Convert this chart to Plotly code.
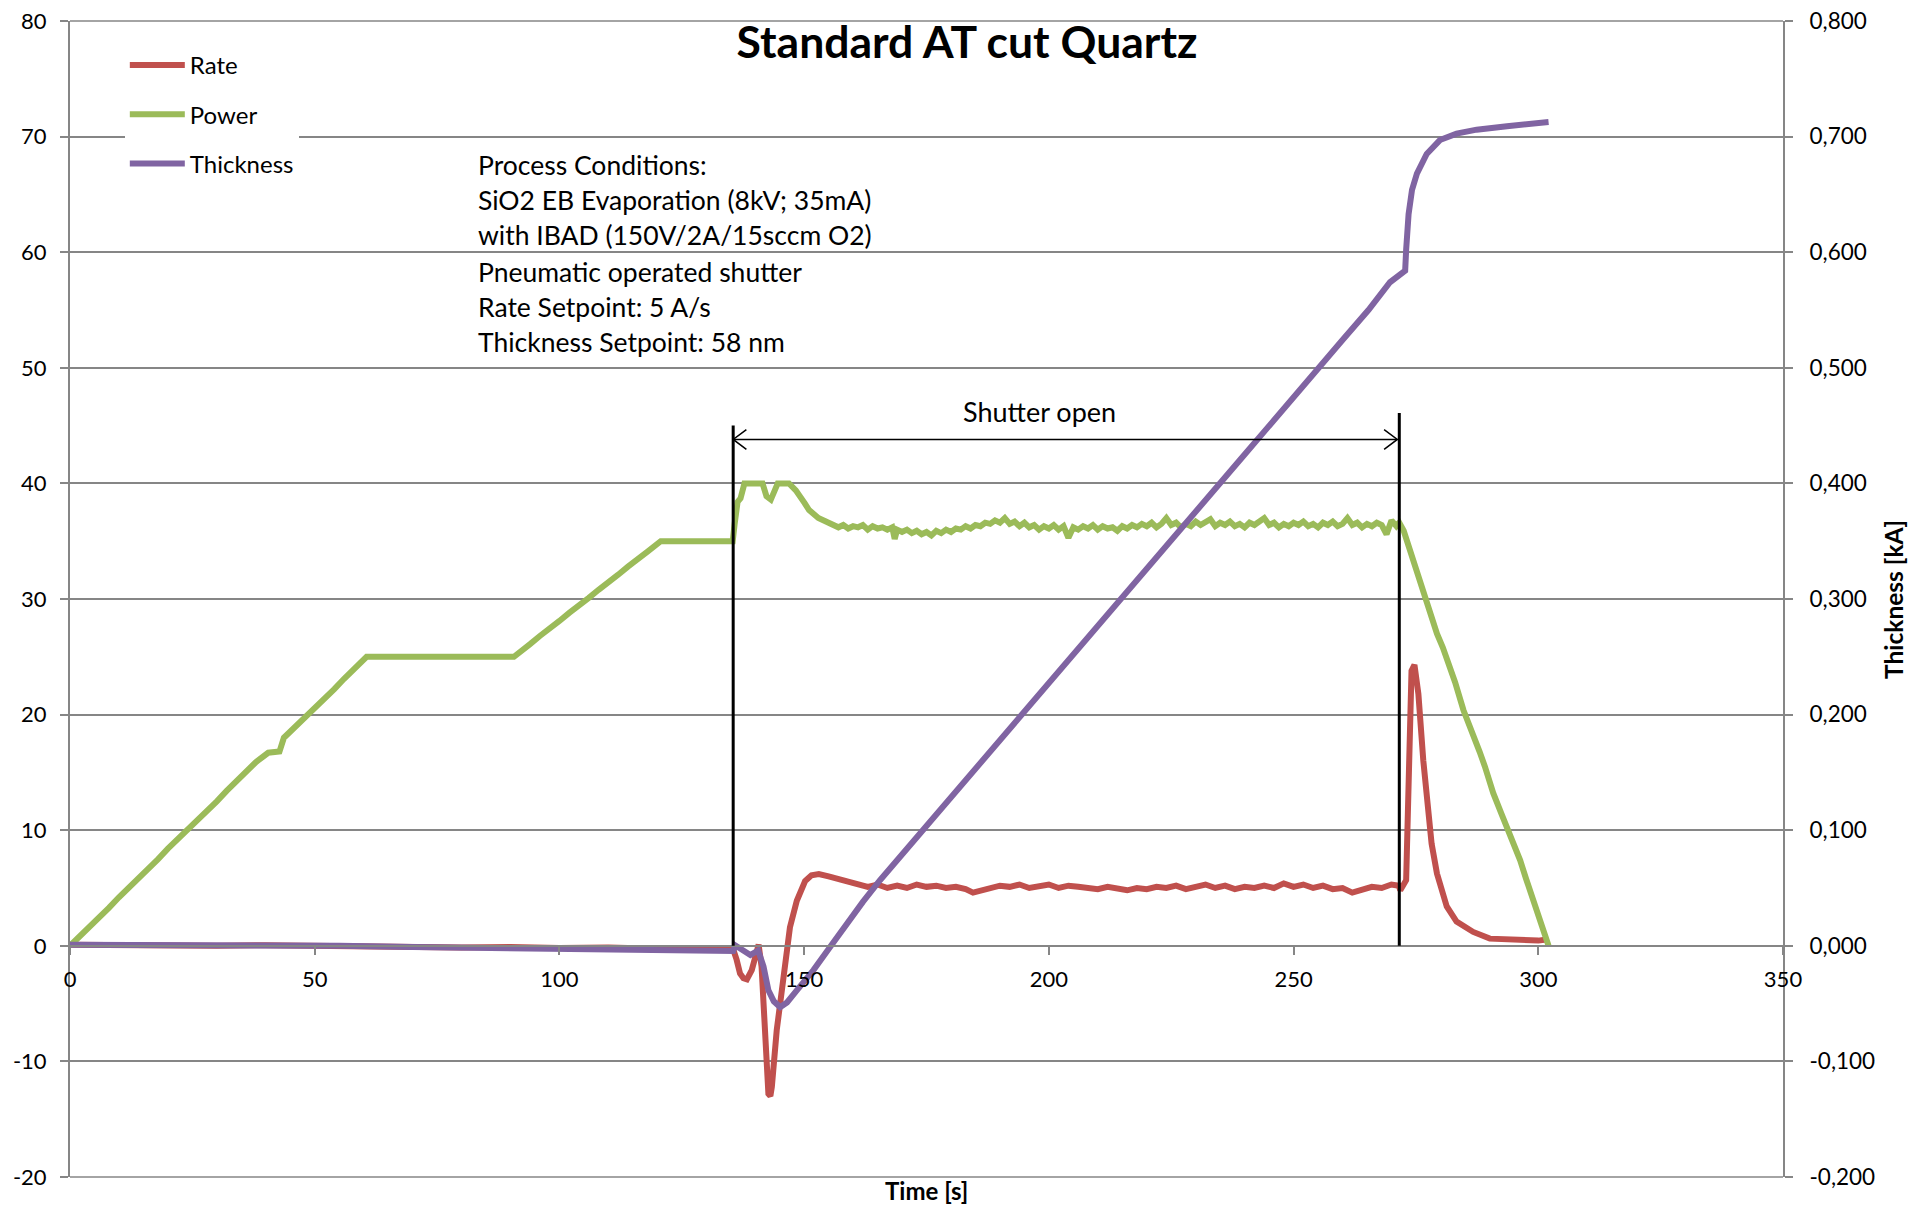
import plotly.graph_objects as go

# ---------------- data ----------------
t_power = [0, 2, 4, 6, 8, 10, 12, 14, 16, 18, 20, 22, 24, 26, 28, 30, 32, 34, 36, 38, 40.5,
           42.8, 43.7, 46, 48, 50, 52, 54, 56, 58, 60.6, 90.7, 92, 94, 96, 98, 100, 102, 104,
           106, 108, 110, 112, 114, 116, 118, 120.7, 135.4, 135.8, 136.4, 137, 137.8, 141.5,
           142.3, 143.2, 144, 144.6, 146.9, 148.3, 150.1, 151, 152.9,
           154, 155, 156, 157, 158, 159, 160, 161, 162, 163, 164, 165, 166, 167, 168, 168.5,
           169, 170, 171, 172, 173, 174, 175, 176, 177, 178, 179, 180, 181, 182, 183, 184,
           185, 186, 187, 188, 189, 190, 191, 192, 193, 194, 195, 196, 197, 198, 199, 200,
           201, 202, 203, 204, 205, 206, 207, 208, 209, 210, 211, 212, 213, 214, 215, 216,
           217, 218, 219, 220, 221, 222, 223, 224, 225, 226, 227, 228, 229, 230, 231, 232,
           233, 234, 235, 236, 237, 238, 239, 240, 241, 242, 243, 244, 245, 246, 247, 248,
           249, 250, 251, 252, 253, 254, 255, 256, 257, 258, 259, 260, 261, 262, 263, 264,
           265, 266, 267, 268, 269, 270, 271, 271.6, 272.5, 273.5, 274.5, 276, 276.9, 278,
           279.3, 280.5, 281.7, 283, 284.7, 286.7, 288, 289.1, 290.8, 292.5, 293.9, 295,
           296.3, 297.5, 299, 300.5, 302.1]
power = [0.0, 0.8, 1.7, 2.5, 3.3, 4.2, 5.0, 5.8, 6.7, 7.5, 8.4, 9.2, 10.0, 10.9, 11.7, 12.5,
         13.4, 14.2, 15.0, 15.9, 16.7, 16.8, 18.0, 18.9, 19.8, 20.6, 21.4, 22.2, 23.1, 23.9,
         25.0, 25.0, 25.4, 26.1, 26.8, 27.4, 28.1, 28.8, 29.4, 30.1, 30.8, 31.4, 32.1, 32.8,
         33.4, 34.1, 35.0, 35.0, 36.5, 38.4, 38.7, 40.0, 40.0, 38.9, 38.6, 39.3, 40.0, 40.0,
         39.4, 38.3, 37.7, 37.0,
         36.8, 36.6, 36.4, 36.2, 36.4, 36.1, 36.3, 36.2, 36.4, 36.0, 36.3, 36.1, 36.2, 36.0,
         36.2, 35.2, 36.0, 35.8, 36.0, 35.7, 35.9, 35.6, 35.8, 35.5, 35.9, 35.7, 36.0, 35.8,
         36.1, 36.0, 36.3, 36.1, 36.4, 36.3, 36.6, 36.5, 36.8, 36.6, 37.0, 36.5, 36.7, 36.3,
         36.6, 36.2, 36.4, 36.0, 36.3, 36.1, 36.4, 36.0, 36.3, 35.3, 36.2, 36.0, 36.3, 36.1,
         36.4, 36.0, 36.3, 36.1, 36.2, 35.9, 36.3, 36.1, 36.4, 36.2, 36.5, 36.3, 36.6, 36.2,
         36.5, 37.0, 36.4, 36.6, 36.2, 36.5, 36.3, 36.7, 36.4, 36.6, 36.9, 36.3, 36.6, 36.4,
         36.7, 36.3, 36.5, 36.2, 36.6, 36.4, 36.7, 37.0, 36.4, 36.6, 36.2, 36.5, 36.3, 36.6,
         36.4, 36.7, 36.3, 36.5, 36.2, 36.6, 36.4, 36.7, 36.3, 36.5, 37.0, 36.4, 36.6, 36.2,
         36.5, 36.3, 36.6, 36.4, 35.6, 36.8, 36.3, 36.6, 35.9, 34.6, 33.35, 31.0, 29.9, 28.5,
         27.0, 25.8, 24.4, 22.8, 20.4, 18.35, 16.8, 15.5, 13.2, 11.4, 10.0, 8.7, 7.4, 5.8,
         3.9, 2.0, 0.0]

t_rate = [0, 10, 20, 30, 40, 50, 60, 70, 80, 90, 100, 110, 120, 130, 135.5, 136.2, 136.9,
          137.6, 138.3, 139.3, 140.0, 140.7, 141.3, 142.0, 142.7, 143.1, 143.4, 144.4, 145.8,
          147.1, 148.5, 150.2, 151.5, 153, 155, 157, 159, 161, 163, 165, 167, 169, 171, 173,
          175, 177, 179, 181, 183, 184.5, 186, 188, 190, 192, 194, 196, 198, 200, 202, 204,
          206, 208, 210, 212, 214, 216, 218, 220, 222, 224, 226, 228, 230, 232, 234, 236,
          238, 240, 242, 244, 246, 248, 250, 252, 254, 256, 258, 260, 262, 264, 266, 268,
          270, 271.5, 271.8, 273, 273.5, 274.1, 274.7, 275.5, 276.5, 277.1, 278.2, 279.3,
          281.3, 283.3, 286.7, 290.1, 295.6, 300, 301.7]
rate = [0.1, 0.05, 0.1, 0.0, 0.05, 0.0, -0.1, -0.05, -0.15, -0.1, -0.2, -0.15, -0.25, -0.2,
        -0.3, -1.2, -2.4, -2.8, -2.9, -2.1, -0.8, 0.1, -1.8, -7.3, -12.8, -13.0, -12.2, -7.3,
        -3.0, 1.6, 3.9, 5.6, 6.1, 6.2, 6.0, 5.8, 5.5, 5.3, 5.1, 5.3, 5.0, 5.2, 5.0, 5.3, 5.1,
        5.2, 5.0, 5.1, 4.9, 4.6, 4.8, 5.0, 5.2, 5.1, 5.3, 5.0, 5.2, 5.3, 5.0, 5.2, 5.1, 5.0,
        4.9, 5.1, 5.0, 4.8, 5.0, 4.9, 5.1, 5.0, 5.2, 4.9, 5.1, 5.3, 5.0, 5.2, 4.9, 5.1, 5.0,
        5.2, 5.0, 5.4, 5.1, 5.3, 5.0, 5.2, 4.9, 5.0, 4.6, 4.9, 5.1, 5.0, 5.3, 5.2, 4.8, 5.67,
        16.05, 23.8, 24.3, 21.8, 16.05, 13.2, 8.85, 6.25, 3.4, 2.1, 1.2, 0.62, 0.5, 0.45, 0.55]

t_thick = [0, 20, 40, 53, 55, 70, 85, 100, 115, 125, 135.5, 135.9, 137.5, 139, 140.6, 141.7,
           142.7, 143.8, 145.1, 146.5, 148.5, 151.9, 155.3, 158.7, 162, 165.5, 180, 200, 220,
           240, 260, 265.3, 269.7, 272.8, 273.0, 273.5, 274.2, 275.2, 277.2, 279.9, 283.3,
           287.4, 293.6, 302.1]
thick = [0.001, 0.001, 0.001, 0.0008, 0.0, -0.001, -0.002, -0.003, -0.004, -0.0045, -0.0045,
         0.0004, -0.004, -0.008, -0.004, -0.018, -0.0385, -0.048, -0.053, -0.049, -0.0385,
         -0.021, -0.001, 0.0192, 0.038, 0.0567, 0.128, 0.227, 0.326, 0.425, 0.524, 0.550,
         0.574, 0.584, 0.602, 0.633, 0.654, 0.668, 0.685, 0.697, 0.7026, 0.706, 0.709, 0.7126]

x_ticks = [0, 50, 100, 150, 200, 250, 300, 350]
x_tick_text = ["0", "50", "100", "150", "200", "250", "300", "350"]
y_ticks = [-20, -10, 0, 10, 20, 30, 40, 50, 60, 70, 80]
y_tick_text = ["-20", "-10", "0", "10", "20", "30", "40", "50", "60", "70", "80"]
y2_ticks = [-0.2, -0.1, 0.0, 0.1, 0.2, 0.3, 0.4, 0.5, 0.6, 0.7, 0.8]
y2_tick_text = ["-0,200", "-0,100", "0,000", "0,100", "0,200", "0,300", "0,400",
                "0,500", "0,600", "0,700", "0,800"]

series_names = ["Rate", "Power", "Thickness"]
colors = ["#C0504D", "#9BBB59", "#8064A2"]

shutter_open_t = 135.5
shutter_close_t = 271.6

process_lines = ["Process Conditions:",
                 "SiO2 EB Evaporation (8kV; 35mA)",
                 "with IBAD (150V/2A/15sccm O2)",
                 "Pneumatic operated shutter",
                 "Rate Setpoint: 5 A/s",
                 "Thickness Setpoint: 58 nm"]

FONT = "Lato"
GRID = "#868686"
LW = 6

fig = go.Figure()
fig.add_trace(go.Scatter(x=t_rate, y=rate, name=series_names[0], mode="lines",
                         line=dict(color=colors[0], width=LW), legendgroup="a"))
fig.add_trace(go.Scatter(x=t_power, y=power, name=series_names[1], mode="lines",
                         line=dict(color=colors[1], width=LW), legendgroup="b"))
fig.add_trace(go.Scatter(x=t_thick, y=thick, name=series_names[2], mode="lines",
                         line=dict(color=colors[2], width=LW), legendgroup="c", yaxis="y2"))

arrow_y = 43.8
shapes = [
    # frame gridlines at the top (80) and bottom (-20)
    dict(type="line", xref="paper", yref="paper", x0=0, x1=1, y0=1, y1=1, layer="below",
         line=dict(color=GRID, width=1.5)),
    dict(type="line", xref="paper", yref="paper", x0=0, x1=1, y0=0, y1=0, layer="below",
         line=dict(color=GRID, width=1.5)),
    dict(type="line", xref="x", yref="y", x0=shutter_open_t, x1=shutter_open_t, y0=0, y1=45.0,
         line=dict(color="black", width=3)),
    dict(type="line", xref="x", yref="y", x0=shutter_close_t, x1=shutter_close_t, y0=0, y1=46.1,
         line=dict(color="black", width=3)),
    dict(type="line", xref="x", yref="y", x0=shutter_open_t, x1=shutter_close_t - 0.4,
         y0=arrow_y, y1=arrow_y, line=dict(color="black", width=1.5)),
    dict(type="path", xref="x", yref="y",
         path=f"M {shutter_open_t + 2.7},{arrow_y + 0.85} L {shutter_open_t},{arrow_y} "
              f"L {shutter_open_t + 2.7},{arrow_y - 0.85}",
         line=dict(color="black", width=1.5)),
    dict(type="path", xref="x", yref="y",
         path=f"M {shutter_close_t - 3.1},{arrow_y + 0.85} L {shutter_close_t - 0.4},{arrow_y} "
              f"L {shutter_close_t - 3.1},{arrow_y - 0.85}",
         line=dict(color="black", width=1.5)),
]

annotations = [
    dict(text="Shutter open", x=198.0, y=46.25, xref="x", yref="y", showarrow=False,
         font=dict(family=FONT, size=27, color="black"), xanchor="center", yanchor="middle"),
    dict(text="Time [s]", x=0.5, y=-0.0115, xref="paper", yref="paper", showarrow=False,
         font=dict(family=FONT, size=24, color="black", weight="bold"),
         xanchor="center", yanchor="middle"),
    dict(text="Thickness [kA]", x=1.0642, y=0.5, xref="paper", yref="paper", showarrow=False,
         textangle=-90, font=dict(family=FONT, size=24.5, color="black", weight="bold"),
         xanchor="center", yanchor="middle"),
]
line_y = [67.55, 64.5, 61.45, 58.3, 55.25, 52.2]
for txt, yy in zip(process_lines, line_y):
    annotations.append(dict(text=txt, x=83.0, y=yy, xref="x", yref="y", showarrow=False,
                            font=dict(family=FONT, size=26.5, color="black"),
                            xanchor="left", yanchor="middle"))

fig.update_layout(
    width=1901, height=1197,
    margin=dict(l=62, r=126, t=13, b=28, autoexpand=False),
    paper_bgcolor="white", plot_bgcolor="white",
    font=dict(family=FONT, size=22, color="black"),
    title=dict(text="Standard AT cut Quartz", x=959 / 1901, xref="container", xanchor="center",
               y=1 - 34 / 1197, yref="container", yanchor="middle",
               font=dict(family=FONT, size=44.5, color="black", weight="bold")),
    xaxis=dict(range=[0, 350], anchor="free", position=0.2, showline=True, linecolor=GRID,
               linewidth=2, ticks="outside", ticklen=8, tickwidth=2, tickcolor=GRID,
               showgrid=False, zeroline=False, tickvals=x_ticks, ticktext=x_tick_text,
               tickfont=dict(family=FONT, size=22, color="black"), ticklabelstandoff=6,
               automargin=False, ticklabeloverflow="allow"),
    yaxis=dict(range=[-20, 80], showline=True, linecolor=GRID, linewidth=2, ticks="outside",
               ticklen=8, tickwidth=2, tickcolor=GRID, showgrid=True, gridcolor=GRID,
               gridwidth=1.5, zeroline=False, tickvals=y_ticks, ticktext=y_tick_text,
               tickfont=dict(family=FONT, size=22, color="black"), ticklabelstandoff=9,
               automargin=False, ticklabeloverflow="allow"),
    yaxis2=dict(range=[-0.2, 0.8], overlaying="y", side="right", showline=True, linecolor=GRID,
                linewidth=2, ticks="outside", ticklen=8, tickwidth=2, tickcolor=GRID,
                showgrid=False, zeroline=False, tickvals=y2_ticks, ticktext=y2_tick_text,
                tickfont=dict(family=FONT, size=22.5, color="black"), ticklabelstandoff=12,
                automargin=False, ticklabeloverflow="allow"),
    legend=dict(x=0.032, y=0.981, xanchor="left", yanchor="top", bgcolor="white",
                font=dict(family=FONT, size=24, color="black"), tracegroupgap=15,
                itemwidth=55),
    shapes=shapes,
    annotations=annotations,
)

fig.write_html("out.html")
